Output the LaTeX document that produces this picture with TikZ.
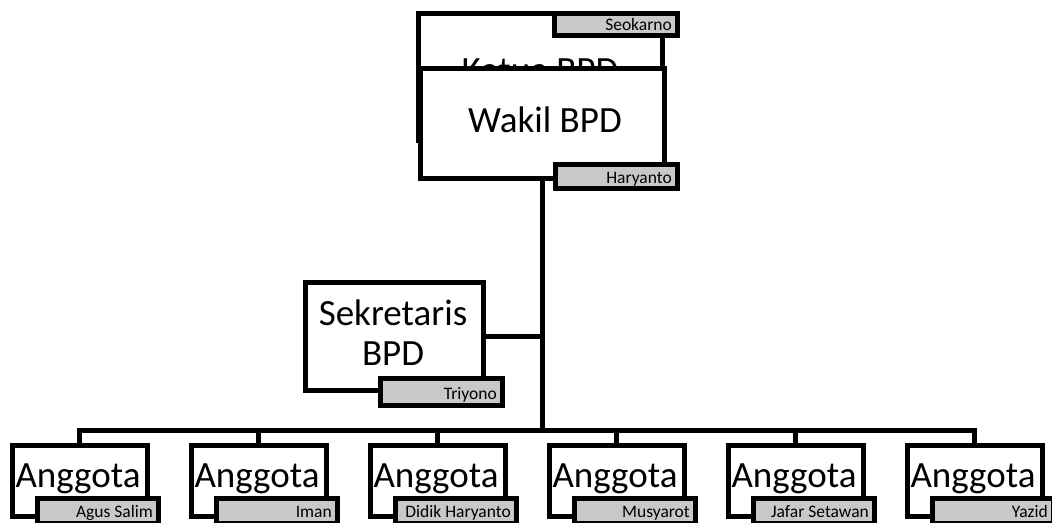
\documentclass[tikz,border=0pt]{standalone}
\usepackage{fontspec}
\setmainfont{Carlito}
\usetikzlibrary{calc}
\definecolor{lblgray}{RGB}{200,200,200}
\begin{document}
\begin{tikzpicture}[x=1pt,y=-1pt,
  box/.style={draw=black,line width=5pt,fill=white,inner sep=0pt,outer sep=0pt},
  lbl/.style={draw=black,line width=5pt,fill=lblgray,inner sep=0pt,outer sep=0pt},
  ltxt/.style={font=\fontsize{17.5}{19}\selectfont,inner sep=0pt,anchor=base east},
  btxt/.style={font=\fontsize{37}{40}\selectfont,inner sep=0pt,anchor=base},
  conn/.style={draw=black,line width=5pt}]
\useasboundingbox (0,0) rectangle (1052,522);
% Ketua
\node[box,minimum width=244pt,minimum height=127pt] (k) at (540,76.5) {};
\node[btxt] (kt) at (540,82) {Ketua BPD};
\node[lbl,minimum width=123pt,minimum height=22pt] (lk) at (615.5,24) {};
\node[ltxt] (lkt) at ($(lk.south east)+(-5,-5)$) {Seokarno};
% Wakil
\node[box,minimum width=244pt,minimum height=110pt] (w) at (542.5,123) {};
\node[btxt] (wt) at (545,132) {Wakil BPD};
\node[lbl,minimum width=122pt,minimum height=24pt] (lw) at (616,176) {};
\node[ltxt] (lwt) at ($(lw.south east)+(-5,-5)$) {Haryanto};
% Sekretaris
\node[box,minimum width=178pt,minimum height=108pt] (s) at (394,336) {};
\node[btxt,align=center,anchor=center] (st) at (393,333) {Sekretaris\\BPD};
\node[lbl,minimum width=122pt,minimum height=27pt] (ls) at (441,391.5) {};
\node[ltxt] (lst) at ($(ls.south east)+(-5,-6)$) {Triyono};
% Anggota
\foreach \i/\nm in {1/Agus Salim,2/Iman,3/Didik Haryanto,4/Musyarot,5/Jafar Setawan,6/Yazid}{
  \pgfmathsetmacro{\lx}{12+(\i-1)*179}
  \node[box,minimum width=135pt,minimum height=71pt] (a\i) at (\lx+67.5,480.5) {};
  \node[btxt] (at\i) at (\lx+66,487) {Anggota};
  \node[lbl,minimum width=121pt,minimum height=25pt] (l\i) at (\lx+85.5,510.5) {};
  \node[ltxt] (lt\i) at ($(l\i.south east)+(-5,-6)$) {\nm};
}
% connectors
\coordinate (bus) at (0,430);
\draw[conn] (a1.north) |- (bus -| a6.north) -- (a6.north);
\foreach \i in {2,3,4,5}{\draw[conn] (a\i.north) -- (a\i.north |- bus);}
\draw[conn] (w.south) -- (w.south |- bus);
\draw[conn] (s.east) -- (s.east -| w.south);
\end{tikzpicture}
\end{document}
